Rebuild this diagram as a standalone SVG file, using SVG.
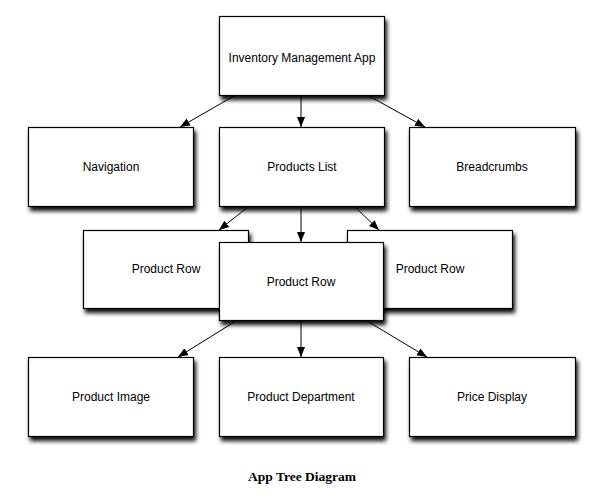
<svg xmlns="http://www.w3.org/2000/svg" width="600" height="499" viewBox="0 0 600 499">
  <style>
    .box { fill: #ffffff; stroke: #000000; stroke-width: 1.2; filter: url(#shadow); }
    .lbl { font-family: "Liberation Sans", Arial, sans-serif; font-size: 12px; fill: #000000; text-anchor: middle; }
    .edge { stroke: #000000; stroke-width: 1; fill: none; marker-end: url(#arrow); }
    .cap { font-family: "Liberation Serif", "Times New Roman", serif; font-size: 13.5px; font-weight: bold; fill: #000000; text-anchor: middle; }
  </style>
  <defs>
    <filter id="shadow" x="-10%" y="-10%" width="130%" height="140%">
      <feDropShadow dx="2" dy="4" stdDeviation="2.2" flood-color="#000000" flood-opacity="0.95"/>
    </filter>
    <marker id="arrow" viewBox="0 0 10 10" refX="10" refY="5" markerWidth="10" markerHeight="10" markerUnits="userSpaceOnUse" orient="auto">
      <path d="M0,1 L10,5 L0,9 Z" fill="#000000"/>
    </marker>
  </defs>
  <rect width="600" height="499" fill="#ffffff"/>

  <g id="connectors">
    <line class="edge" x1="234" y1="96" x2="180" y2="127"/>
    <line class="edge" x1="301" y1="96" x2="301" y2="127"/>
    <line class="edge" x1="369" y1="96" x2="425" y2="127"/>
    <line class="edge" x1="248" y1="207" x2="219" y2="230"/>
    <line class="edge" x1="301" y1="207" x2="301" y2="242"/>
    <line class="edge" x1="355" y1="207" x2="379" y2="230"/>
    <line class="edge" x1="236" y1="321" x2="178" y2="357"/>
    <line class="edge" x1="301" y1="321" x2="301" y2="357"/>
    <line class="edge" x1="367" y1="321" x2="427" y2="357"/>
  </g>

  <g id="app">
    <rect class="box" x="219.5" y="16.5" width="165" height="79"/>
    <text class="lbl" x="302" y="62">Inventory Management App</text>
  </g>
  <g id="navigation">
    <rect class="box" x="28.5" y="127.5" width="165" height="79"/>
    <text class="lbl" x="111" y="171">Navigation</text>
  </g>
  <g id="products-list">
    <rect class="box" x="219.5" y="127.5" width="165" height="79"/>
    <text class="lbl" x="302" y="171">Products List</text>
  </g>
  <g id="breadcrumbs">
    <rect class="box" x="409.5" y="127.5" width="166" height="79"/>
    <text class="lbl" x="492" y="171">Breadcrumbs</text>
  </g>
  <g id="product-row-left">
    <rect class="box" x="83.5" y="230.5" width="165" height="78"/>
    <text class="lbl" x="166" y="273">Product Row</text>
  </g>
  <g id="product-row-right">
    <rect class="box" x="347.5" y="230.5" width="165" height="78"/>
    <text class="lbl" x="430" y="273">Product Row</text>
  </g>
  <g id="product-row-center">
    <rect class="box" x="219.5" y="242.5" width="164" height="78"/>
    <text class="lbl" x="301" y="286">Product Row</text>
  </g>
  <g id="product-image">
    <rect class="box" x="28.5" y="357.5" width="165" height="79"/>
    <text class="lbl" x="111" y="401">Product Image</text>
  </g>
  <g id="product-department">
    <rect class="box" x="219.5" y="357.5" width="164" height="79"/>
    <text class="lbl" x="301" y="401">Product Department</text>
  </g>
  <g id="price-display">
    <rect class="box" x="409.5" y="357.5" width="166" height="79"/>
    <text class="lbl" x="492" y="401">Price Display</text>
  </g>

  <text class="cap" x="302" y="481">App Tree Diagram</text>
</svg>
